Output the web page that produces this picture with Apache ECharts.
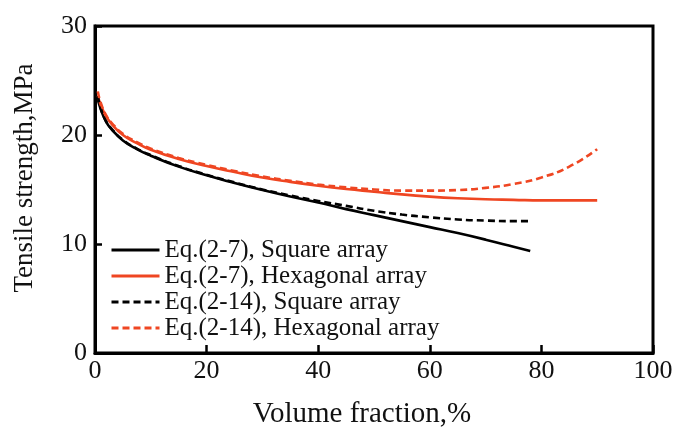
<!DOCTYPE html>
<html>
<head>
<meta charset="utf-8">
<script src="https://cdn.jsdelivr.net/npm/echarts@6/dist/echarts.min.js"></script>
<style>
  html, body { margin: 0; padding: 0; background: #fff; }
  #chart { width: 679px; height: 433px; }
</style>
</head>
<body>
<div id="chart"></div>
<script>
// Volume fraction (%) sample points for each model curve
const volSquare = [0.5, 1, 2, 3, 5, 7.5, 10, 15, 20, 25, 30, 35, 40, 45, 50, 55, 60, 65, 70, 75, 78];
const volHex = [0.5, 1, 2, 3, 5, 7.5, 10, 15, 20, 25, 30, 35, 40, 45, 50, 55, 60, 65, 70, 75, 80, 85, 90];

// Tensile strength (MPa)
const eq7Square = [23.3, 22.4, 21.2, 20.5, 19.5, 18.7, 18.1, 17.1, 16.3, 15.6, 14.95, 14.35, 13.8, 13.2, 12.65, 12.1, 11.55, 11.0, 10.4, 9.75, 9.35];
const eq7Hex = [23.6, 22.8, 21.7, 21.0, 20.0, 19.25, 18.65, 17.8, 17.15, 16.6, 16.1, 15.7, 15.35, 15.05, 14.8, 14.55, 14.35, 14.2, 14.1, 14.05, 14.0, 14.0, 14.0];
const eq14Square = [23.6, 22.5, 21.25, 20.55, 19.55, 18.75, 18.15, 17.15, 16.35, 15.65, 15.0, 14.45, 13.95, 13.5, 13.05, 12.7, 12.45, 12.25, 12.15, 12.1, 12.1];
const eq14Hex = [24.0, 23.0, 21.8, 21.1, 20.1, 19.35, 18.75, 17.9, 17.25, 16.7, 16.2, 15.8, 15.45, 15.2, 15.0, 14.9, 14.9, 14.95, 15.15, 15.5, 16.1, 17.1, 18.7];

const seriesNames = [
  'Eq.(2-7), Square array',
  'Eq.(2-7), Hexagonal array',
  'Eq.(2-14), Square array',
  'Eq.(2-14), Hexagonal array'
];

const xTitle = 'Volume fraction,%';
const yTitle = 'Tensile strength,MPa';

const BLACK = '#000000';
const RED = '#ef4622';
const FONT = '"Liberation Serif", "Times New Roman", serif';

const pair = (xs, ys) => xs.map((x, i) => [x, ys[i]]);

function lineSeries(name, xs, ys, color, dashed) {
  return {
    name: name,
    type: 'line',
    data: pair(xs, ys),
    showSymbol: false,
    symbol: 'none',
    smooth: 0.5,
    lineStyle: { color: color, width: 2.6, type: dashed ? [7, 4] : 'solid' },
    itemStyle: { color: color },
    emphasis: { disabled: true },
    silent: true
  };
}

const chart = echarts.init(document.getElementById('chart'), null, { renderer: 'canvas' });

chart.setOption({
  animation: false,
  backgroundColor: '#fff',
  grid: {
    left: 95, right: 26, top: 26, bottom: 80,
    show: true, borderColor: BLACK, borderWidth: 3, backgroundColor: 'transparent'
  },
  xAxis: {
    type: 'value', min: 0, max: 100, interval: 20,
    axisLine: { show: true, lineStyle: { color: BLACK, width: 3 } },
    axisTick: { show: true, inside: true, length: 8, lineStyle: { color: BLACK, width: 2.5 } },
    axisLabel: { color: '#111', fontFamily: FONT, fontSize: 26, margin: 5 },
    splitLine: { show: false }
  },
  yAxis: {
    type: 'value', min: 0, max: 30, interval: 10,
    axisLine: { show: true, lineStyle: { color: BLACK, width: 3 } },
    axisTick: { show: true, inside: true, length: 7, lineStyle: { color: BLACK, width: 2.5 } },
    axisLabel: { color: '#111', fontFamily: FONT, fontSize: 26, margin: 8 },
    splitLine: { show: false }
  },
  legend: {
    orient: 'vertical',
    left: 110, top: 237,
    itemWidth: 48, itemHeight: 3, itemGap: 0,
    padding: 0,
    selectedMode: false,
    itemStyle: { opacity: 0 },
    lineStyle: { width: 3 },
    textStyle: { color: '#111', fontFamily: FONT, fontSize: 25, lineHeight: 26 },
    data: seriesNames
  },
  graphic: [
    {
      type: 'text', x: 362, y: 414,
      style: { text: xTitle, fill: '#111', font: '29px ' + FONT, align: 'center', verticalAlign: 'middle' }
    },
    {
      type: 'text', x: 25, y: 178, rotation: Math.PI / 2,
      style: { text: yTitle, fill: '#111', font: '27px ' + FONT, align: 'center', verticalAlign: 'middle' }
    }
  ],
  series: [
    lineSeries(seriesNames[0], volSquare, eq7Square, BLACK, false),
    lineSeries(seriesNames[1], volHex, eq7Hex, RED, false),
    lineSeries(seriesNames[2], volSquare, eq14Square, BLACK, true),
    lineSeries(seriesNames[3], volHex, eq14Hex, RED, true)
  ]
});
</script>
</body>
</html>
